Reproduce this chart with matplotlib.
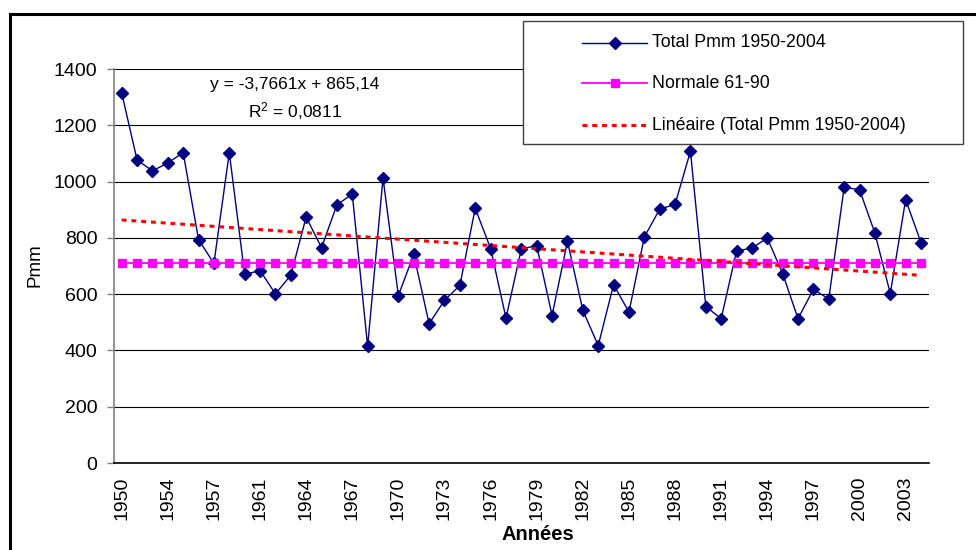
import matplotlib
matplotlib.use('Agg')
import matplotlib.pyplot as plt
import numpy as np
from matplotlib.patches import Rectangle
from matplotlib.lines import Line2D

plt.rcParams['font.family'] = ['Liberation Sans', 'DejaVu Sans']
plt.rcParams['mathtext.default'] = 'regular'

# ---------------- data ----------------
years = [1950, 1951, 1953, 1954, 1955, 1956, 1957, 1958, 1960, 1961,
         1962, 1963, 1964, 1965, 1966, 1967, 1968, 1969, 1970, 1971,
         1972, 1973, 1974, 1975, 1976, 1977, 1978, 1979, 1980, 1981,
         1982, 1983, 1984, 1985, 1986, 1987, 1988, 1989, 1990, 1991,
         1992, 1993, 1994, 1995, 1996, 1997, 1998, 1999, 2000, 2001,
         2002, 2003, 2004]
pmm = [1315, 1077, 1038, 1066, 1103, 794, 709, 1103, 670, 684,
       601, 667, 874, 765, 917, 956, 414, 1013, 595, 741,
       495, 578, 631, 905, 762, 515, 761, 772, 524, 788,
       543, 417, 634, 536, 803, 902, 919, 1108, 556, 513,
       753, 764, 799, 673, 513, 617, 583, 980, 971, 817,
       602, 936, 783]
normale = 711
yticks = [0, 200, 400, 600, 800, 1000, 1200, 1400]
series_labels = ['Total Pmm 1950-2004', 'Normale 61-90',
                 'Linéaire (Total Pmm 1950-2004)']
eq_text = 'y = -3,7661x + 865,14'
r2_text = 'R$^2$ = 0,0811'

W, H = 976, 550
fig = plt.figure(figsize=(W / 100, H / 100), dpi=100)

def fx(px):
    return px / W

def fy(py):
    return 1 - py / H

ax = fig.add_axes([fx(114), fy(463), fx(928.7) - fx(114), fy(69) - fy(463)])

x = np.arange(len(pmm))
normale_series = np.full(len(pmm), normale)
coef = np.polyfit(x + 1, pmm, 1)
trend = np.polyval(coef, x + 1)

navy = '#000080'
magenta = '#FF00FF'

ax.plot(x, pmm, color=navy, lw=1.0, marker='D', ms=6.0, mfc=navy, mec=navy, zorder=3)
ax.plot(x, normale_series, color=magenta, lw=1.3, marker='s', ms=6, mfc=magenta, mec=magenta, zorder=4)
ax.plot(x, trend, color='red', lw=2.2, ls=(0, (1.6, 1.6)), zorder=5)

ax.set_xlim(-0.5, len(pmm) - 0.5)
ax.set_ylim(0, 1400)
ax.set_yticks(yticks)
ax.set_yticklabels([str(v) for v in yticks])
ax.set_xticks(x[::3])
ax.set_xticklabels([str(y) for y in years[::3]], rotation=90)

ax.set_axisbelow(True)
ax.yaxis.grid(True, color='black', lw=0.8)
for s in ['top', 'right']:
    ax.spines[s].set_visible(False)
ax.spines['left'].set_color('#808080')
ax.spines['left'].set_linewidth(1.2)
ax.spines['bottom'].set_color('black')
ax.spines['bottom'].set_linewidth(1.2)

ax.tick_params(axis='x', length=0, pad=10, labelsize=14)
ax.tick_params(axis='y', length=5, width=1, color='#808080', pad=7, labelsize=14)

# axis titles
fig.text(fx(35), fy(265), 'Pmm', rotation=90, ha='center', va='center', fontsize=13.5)
fig.text(fx(538), fy(535), 'Années', ha='center', va='center', fontsize=14.5, fontweight='bold')

# trendline equation
fig.text(fx(295), fy(85), eq_text, ha='center', va='center', fontsize=12.5)
fig.text(fx(295), fy(111), r2_text, ha='center', va='center', fontsize=12.5)

# legend (manual)
leg = Rectangle((fx(523.3), fy(144)), fx(963.3) - fx(523.3), fy(21.3) - fy(144),
                transform=fig.transFigure, facecolor='white', edgecolor='#404040',
                lw=1.0, zorder=10)
fig.patches.append(leg)
rows = [42.7, 83.3, 125]
styles = [dict(color=navy, lw=1.0, marker='D', ms=6.0, mfc=navy, mec=navy),
          dict(color=magenta, lw=1.3, marker='s', ms=6, mfc=magenta, mec=magenta),
          dict(color='red', lw=2.2, ls=(0, (1.6, 1.6)))]
for ry, st, lab in zip(rows, styles, series_labels):
    ln = Line2D([fx(582), fx(647)], [fy(ry), fy(ry)], transform=fig.transFigure,
                markevery=[], zorder=11, **st)
    fig.lines.append(ln)
    if 'marker' in st:
        mk = Line2D([fx(614.5)], [fy(ry)], transform=fig.transFigure, zorder=12,
                    ls='none', marker=st['marker'], ms=st['ms'], mfc=st['mfc'], mec=st['mec'])
        fig.lines.append(mk)
    fig.text(fx(652), fy(ry), lab, ha='left', va='center', fontsize=12.8, zorder=12)

# outer chart border (left and top visible)
border = Rectangle((fx(9.7), -0.2), 2, fy(14) + 0.2, transform=fig.transFigure,
                   fill=False, edgecolor='black', lw=2.2, zorder=20)
fig.patches.append(border)

fig.savefig('out.png', dpi=100)
